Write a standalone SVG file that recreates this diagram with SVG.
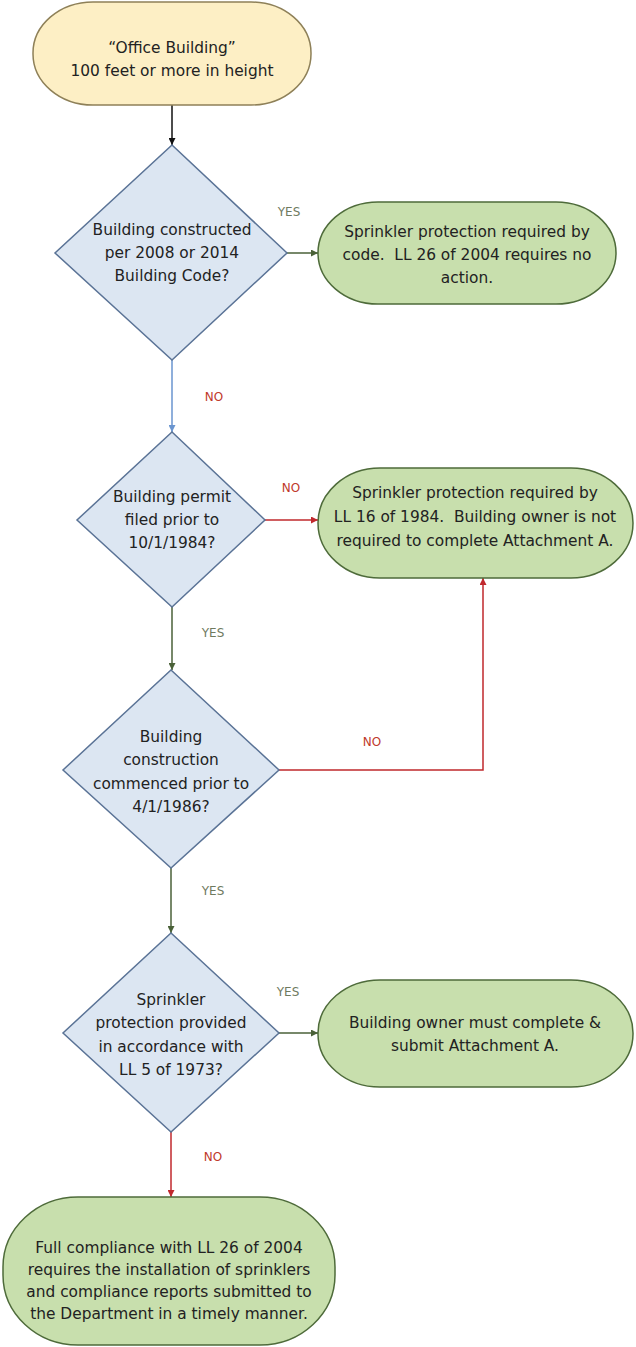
<svg xmlns="http://www.w3.org/2000/svg" width="636" height="1347" viewBox="0 0 636 1347">
<style>
.t{font-family:"DejaVu Sans","Open Sans",sans-serif;font-size:15.4px;fill:#222;text-anchor:middle;white-space:pre}
.lab{font-family:"DejaVu Sans","Open Sans",sans-serif;font-size:12px;text-anchor:middle}
.yes{fill:#6f7a5f}
.no{fill:#c0392b}
.start{fill:#fdefc5;stroke:#8e8058;stroke-width:1.5}
.dec{fill:#dce6f2;stroke:#5a7396;stroke-width:1.5}
.end{fill:#c8dfad;stroke:#4e6b3a;stroke-width:1.5}
.c{fill:none;stroke-width:1.5}
</style>
<defs>
<marker id="mk" viewBox="0 0 10 10" refX="10" refY="5" markerWidth="7" markerHeight="7" markerUnits="userSpaceOnUse" orient="auto"><path d="M0,0L10,5L0,10z" fill="#111"/></marker>
<marker id="mg" viewBox="0 0 10 10" refX="10" refY="5" markerWidth="7" markerHeight="7" markerUnits="userSpaceOnUse" orient="auto"><path d="M0,0L10,5L0,10z" fill="#4a6138"/></marker>
<marker id="mb" viewBox="0 0 10 10" refX="10" refY="5" markerWidth="7" markerHeight="7" markerUnits="userSpaceOnUse" orient="auto"><path d="M0,0L10,5L0,10z" fill="#6a95cf"/></marker>
<marker id="mr" viewBox="0 0 10 10" refX="10" refY="5" markerWidth="7" markerHeight="7" markerUnits="userSpaceOnUse" orient="auto"><path d="M0,0L10,5L0,10z" fill="#c0282d"/></marker>
</defs>
<rect width="636" height="1347" fill="#fff"/>
<g id="connectors">
<line class="c" x1="172" y1="105" x2="172" y2="145" stroke="#111" marker-end="url(#mk)"/>
<line class="c" x1="287" y1="253" x2="318" y2="253" stroke="#4a6138" marker-end="url(#mg)"/>
<line class="c" x1="172" y1="360" x2="172" y2="432" stroke="#6a95cf" marker-end="url(#mb)"/>
<line class="c" x1="265" y1="520" x2="318" y2="520" stroke="#c0282d" marker-end="url(#mr)"/>
<line class="c" x1="172" y1="607" x2="172" y2="670" stroke="#4a6138" marker-end="url(#mg)"/>
<polyline class="c" points="279,770 483,770 483,578" stroke="#c0282d" marker-end="url(#mr)"/>
<line class="c" x1="171" y1="868" x2="171" y2="933" stroke="#4a6138" marker-end="url(#mg)"/>
<line class="c" x1="279" y1="1033" x2="318" y2="1033" stroke="#4a6138" marker-end="url(#mg)"/>
<line class="c" x1="171" y1="1132" x2="171" y2="1197" stroke="#c0282d" marker-end="url(#mr)"/>
<text class="lab yes" x="289" y="216">YES</text>
<text class="lab no" x="214" y="401">NO</text>
<text class="lab no" x="291" y="492">NO</text>
<text class="lab yes" x="213" y="637">YES</text>
<text class="lab no" x="372" y="746">NO</text>
<text class="lab yes" x="213" y="895">YES</text>
<text class="lab yes" x="288" y="996">YES</text>
<text class="lab no" x="213" y="1161">NO</text>
</g>
<g id="start">
<rect class="start" x="33" y="2" width="278" height="103" rx="60" ry="51"/>
<text class="t" x="172" y="53">“Office Building”</text>
<text class="t" x="172" y="76">100 feet or more in height</text>
</g>
<g id="d1">
<polygon class="dec" points="172,145 287,253 172,360 55,253"/>
<text class="t" x="172" y="235">Building constructed</text>
<text class="t" x="172" y="258">per 2008 or 2014</text>
<text class="t" x="172" y="281">Building Code?</text>
</g>
<g id="e1">
<rect class="end" x="318" y="202" width="298" height="102" rx="60" ry="51"/>
<text class="t" x="467" y="237">Sprinkler protection required by</text>
<text class="t" x="467" y="260">code.  LL 26 of 2004 requires no</text>
<text class="t" x="467" y="283">action.</text>
</g>
<g id="d2">
<polygon class="dec" points="172,432 265,520 172,607 77,520"/>
<text class="t" x="172" y="502">Building permit</text>
<text class="t" x="172" y="525">filed prior to</text>
<text class="t" x="172" y="548">10/1/1984?</text>
</g>
<g id="e2">
<rect class="end" x="318" y="468" width="315" height="110" rx="62" ry="55"/>
<text class="t" x="475" y="498">Sprinkler protection required by</text>
<text class="t" x="475" y="522">LL 16 of 1984.  Building owner is not</text>
<text class="t" x="475" y="546">required to complete Attachment A.</text>
</g>
<g id="d3">
<polygon class="dec" points="171,670 279,770 171,868 63,770"/>
<text class="t" x="171" y="742">Building</text>
<text class="t" x="171" y="765">construction</text>
<text class="t" x="171" y="789">commenced prior to</text>
<text class="t" x="171" y="812">4/1/1986?</text>
</g>
<g id="d4">
<polygon class="dec" points="171,933 279,1033 171,1132 63,1033"/>
<text class="t" x="171" y="1005">Sprinkler</text>
<text class="t" x="171" y="1028">protection provided</text>
<text class="t" x="171" y="1052">in accordance with</text>
<text class="t" x="171" y="1075">LL 5 of 1973?</text>
</g>
<g id="e3">
<rect class="end" x="318" y="980" width="315" height="107" rx="62" ry="53"/>
<text class="t" x="475" y="1028">Building owner must complete &amp;</text>
<text class="t" x="475" y="1051">submit Attachment A.</text>
</g>
<g id="e4">
<rect class="end" x="3" y="1197" width="332" height="148" rx="75" ry="70"/>
<text class="t" x="169" y="1253">Full compliance with LL 26 of 2004</text>
<text class="t" x="169" y="1275">requires the installation of sprinklers</text>
<text class="t" x="169" y="1297">and compliance reports submitted to</text>
<text class="t" x="169" y="1319">the Department in a timely manner.</text>
</g>
</svg>
